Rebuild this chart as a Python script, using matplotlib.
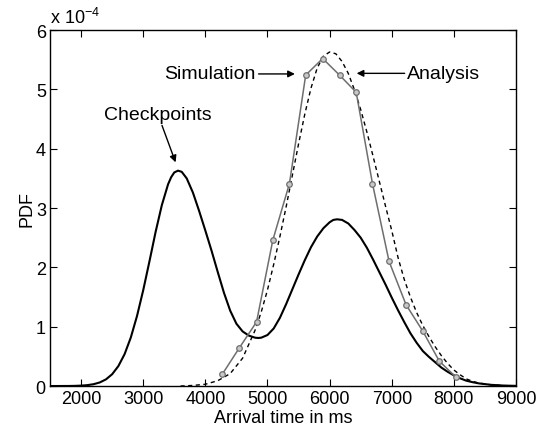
import matplotlib
matplotlib.use("Agg")
import matplotlib.pyplot as plt

plt.rcParams['font.family'] = ['Liberation Sans', 'DejaVu Sans']

# values are in units of 1e-4
SCALE = 1e-4

# Checkpoints (solid black)
chk_x = [1500, 1800, 1900, 2000, 2100, 2200, 2300, 2400, 2500, 2600, 2700, 2800, 2900,
         3000, 3100, 3200, 3300, 3400, 3450, 3500, 3560, 3620, 3700, 3800, 3900, 4000,
         4100, 4200, 4300, 4400, 4500, 4600, 4700, 4800, 4850, 4900, 5000, 5100, 5200,
         5300, 5400, 5500, 5600, 5700, 5800, 5900, 6000, 6060, 6120, 6200, 6300, 6400,
         6500, 6600, 6700, 6800, 6900, 7000, 7100, 7200, 7300, 7400, 7500, 7600, 7700,
         7800, 7900, 8000, 8100, 8200, 8300, 8400, 8600, 8800, 9000]
chk_y = [0.0, 0.001, 0.003, 0.007, 0.015, 0.031, 0.060, 0.112, 0.199, 0.336, 0.537, 0.817,
         1.18, 1.615, 2.10, 2.60, 3.05, 3.40, 3.52, 3.60, 3.63, 3.61, 3.50, 3.26, 2.95,
         2.62, 2.28, 1.92, 1.57, 1.27, 1.05, 0.92, 0.85, 0.815, 0.81, 0.815, 0.86, 0.97,
         1.15, 1.38, 1.63, 1.88, 2.12, 2.34, 2.52, 2.66, 2.76, 2.80, 2.81, 2.80, 2.74,
         2.63, 2.50, 2.33, 2.13, 1.92, 1.71, 1.49, 1.28, 1.08, 0.89, 0.73, 0.59, 0.49,
         0.40, 0.31, 0.24, 0.18, 0.13, 0.09, 0.065, 0.045, 0.02, 0.008, 0.003]

# Analysis (dashed black)
ana_x = [3600, 3800, 4000, 4200, 4400, 4600, 4800, 4900, 5000, 5100, 5200, 5300, 5400,
         5500, 5600, 5700, 5800, 5900, 6000, 6100, 6200, 6300, 6400, 6500, 6600, 6700,
         6800, 6900, 7000, 7100, 7200, 7300, 7400, 7500, 7600, 7700, 7800, 7900, 8000,
         8100, 8200, 8300, 8400, 8600, 8800, 9000]
ana_y = [0.0, 0.01, 0.03, 0.09, 0.21, 0.47, 0.94, 1.25, 1.62, 2.05, 2.52, 3.02, 3.55,
         4.08, 4.58, 5.02, 5.36, 5.56, 5.63, 5.60, 5.47, 5.27, 4.99, 4.66, 4.28, 3.87,
         3.45, 3.03, 2.62, 2.17, 1.80, 1.50, 1.24, 1.02, 0.83, 0.66, 0.51, 0.38, 0.27,
         0.19, 0.12, 0.08, 0.05, 0.02, 0.007, 0.002]

# Simulation (gray with circles)
sim_x = [4273, 4545, 4824, 5086, 5353, 5615, 5888, 6160, 6428, 6690, 6957, 7230, 7497,
         7765, 8032]
sim_y = [0.20, 0.64, 1.08, 2.46, 3.41, 5.24, 5.52, 5.24, 4.95, 3.41, 2.10, 1.37, 0.93,
         0.42, 0.15]

x_ticks = [2000, 3000, 4000, 5000, 6000, 7000, 8000, 9000]
y_ticks = [0, 1, 2, 3, 4, 5, 6]

fig = plt.figure(figsize=(5.46, 4.31), dpi=100)
ax = fig.add_axes([0.0916, 0.102, 0.8535, 0.826])

ax.plot(chk_x, chk_y, color='black', lw=1.5)
ax.plot(ana_x, ana_y, color='black', lw=1.0, ls=(0, (3, 2.5)))
ax.plot(sim_x, sim_y, color='#6e6e6e', lw=1.1, marker='o', ms=4,
        mfc='#c8c8c8', mec='#6e6e6e', mew=0.9)

ax.set_xlim(1500, 9000)
ax.set_ylim(0, 6)
ax.set_xticks(x_ticks)
ax.set_yticks(y_ticks)
ax.set_xticklabels([str(v) for v in x_ticks])
ax.set_yticklabels([str(v) for v in y_ticks])
ax.tick_params(direction='in', length=5, width=0.8, top=True, right=True,
               labelsize=13, pad=3)
for s in ax.spines.values():
    s.set_linewidth(1.0)

ax.set_xlabel('Arrival time in ms', fontsize=13, labelpad=1)
ax.set_ylabel('PDF', fontsize=13, labelpad=0)

ax.text(0.0, 1.008, 'x 10$^{\\mathregular{-4}}$', transform=ax.transAxes,
        fontsize=13, ha='left', va='bottom')

arrow = dict(arrowstyle='-|>', color='black', lw=1.0, mutation_scale=10,
             shrinkA=0, shrinkB=0)
ax.annotate('Simulation', xy=(5441, 5.26), xytext=(4812, 5.26),
            fontsize=14, ha='right', va='center', arrowprops=arrow)
ax.annotate('Analysis', xy=(6435, 5.27), xytext=(7252, 5.27),
            fontsize=14, ha='left', va='center', arrowprops=arrow)
ax.annotate('Checkpoints', xy=(3521, 3.77), xytext=(3235, 4.44),
            fontsize=14, ha='center', va='bottom', arrowprops=arrow)

fig.savefig('out.png', dpi=100)
